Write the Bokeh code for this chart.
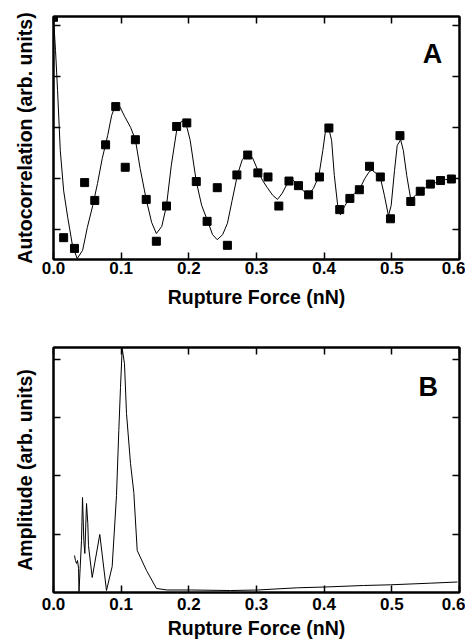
from bokeh.plotting import figure
from bokeh.models import LinearAxis, FixedTicker, Label, Range1d
from bokeh.layouts import column
from bokeh.embed import file_html
from bokeh.resources import INLINE

# ---------------- Panel A data ----------------
a_pts_x = [0.000, 0.015, 0.031, 0.046, 0.061, 0.077, 0.092, 0.106, 0.121, 0.137,
           0.152, 0.167, 0.182, 0.197, 0.211, 0.227, 0.242, 0.257, 0.271, 0.287,
           0.302, 0.317, 0.333, 0.348, 0.362, 0.377, 0.393, 0.407, 0.423, 0.438,
           0.452, 0.467, 0.483, 0.498, 0.512, 0.528, 0.542, 0.557, 0.572, 0.588]
a_pts_y = [4.16, -0.16, -0.37, 0.92, 0.57, 1.66, 2.41, 1.22, 1.76, 0.59,
           -0.23, 0.46, 2.02, 2.09, 0.94, 0.16, 0.82, -0.31, 1.07, 1.46,
           1.11, 1.03, 0.46, 0.95, 0.86, 0.68, 1.03, 1.99, 0.39, 0.61,
           0.78, 1.24, 1.03, 0.21, 1.84, 0.55, 0.75, 0.89, 0.96, 0.99]

a_fit_x = [0.000, 0.003, 0.006, 0.010, 0.015, 0.021, 0.028, 0.035, 0.043, 0.050,
           0.058, 0.065, 0.072, 0.080, 0.086, 0.092, 0.098, 0.105, 0.114, 0.121,
           0.128, 0.137, 0.145, 0.152, 0.160, 0.167, 0.174, 0.182, 0.189, 0.195,
           0.202, 0.211, 0.219, 0.228, 0.235, 0.242, 0.250, 0.257, 0.264, 0.272,
           0.279, 0.287, 0.294, 0.302, 0.309, 0.316, 0.324, 0.331, 0.338, 0.347,
           0.355, 0.362, 0.369, 0.377, 0.384, 0.392, 0.398, 0.402, 0.406, 0.411,
           0.415, 0.420, 0.424, 0.430, 0.437, 0.445, 0.452, 0.460, 0.467, 0.471,
           0.477, 0.483, 0.489, 0.495, 0.499, 0.504, 0.508, 0.513, 0.517, 0.522,
           0.528, 0.535, 0.542, 0.550, 0.557, 0.565, 0.572, 0.579, 0.588]
a_fit_y = [4.16, 3.51, 2.73, 1.55, 0.76, 0.24, -0.31, -0.57, -0.41, 0.04,
           0.47, 0.90, 1.39, 1.84, 2.24, 2.45, 2.41, 2.22, 2.00, 1.76,
           1.20, 0.59, 0.14, -0.08, 0.06, 0.47, 1.25, 1.94, 2.12, 2.12,
           1.75, 0.94, 0.47, 0.16, -0.10, -0.20, -0.10, 0.12, 0.57, 1.08,
           1.37, 1.49, 1.41, 1.16, 0.96, 0.82, 0.67, 0.59, 0.71, 0.94,
           0.96, 0.86, 0.76, 0.69, 0.80, 1.04, 1.55, 1.94, 2.02, 1.75,
           1.06, 0.47, 0.29, 0.45, 0.61, 0.71, 0.78, 1.00, 1.14, 1.16,
           1.10, 1.02, 0.67, 0.27, 0.47, 1.16, 1.65, 1.76, 1.55, 1.06,
           0.59, 0.67, 0.75, 0.82, 0.88, 0.92, 0.96, 0.98, 0.98]

# ---------------- Panel B data ----------------
b_x = [0.031, 0.0325, 0.034, 0.0355, 0.037, 0.0377, 0.0414, 0.0429, 0.0448, 0.0463,
       0.0488, 0.0507, 0.0517, 0.0572, 0.0684, 0.0783, 0.0867, 0.0931, 0.0965, 0.099,
       0.1015, 0.1049, 0.1079, 0.1138, 0.1187, 0.1237, 0.1374, 0.1522, 0.168, 0.2025,
       0.2616, 0.3015, 0.3606, 0.4005, 0.458, 0.498, 0.557, 0.597]
b_y = [0.635, 0.549, 0.498, 0.549, 0.412, 0.017, 0.893, 1.631, 0.893, 0.670,
       1.528, 1.185, 0.807, 0.258, 0.996, 0.034, 0.446, 1.665, 2.781, 3.519,
       4.189, 3.931, 3.073, 2.215, 1.717, 0.721, 0.378, 0.069, 0.043, 0.043,
       0.034, 0.043, 0.081, 0.094, 0.120, 0.132, 0.160, 0.180]

x_ticks = [0.0, 0.1, 0.2, 0.3, 0.4, 0.5, 0.6]
a_y_ticks = [0, 1, 2, 3, 4]
b_y_ticks = [1, 2, 3, 4]

FONT = "Liberation Sans"


def base_axis(ax):
    ax.axis_line_width = 2
    ax.axis_line_color = "black"
    ax.axis_label_text_font = FONT
    ax.axis_label_text_font_style = "bold"
    ax.axis_label_text_font_size = "19.5px"
    ax.axis_label_text_color = "black"


def labelled_axis(ax, ticks):
    base_axis(ax)
    ax.ticker = FixedTicker(ticks=ticks)
    ax.major_tick_in = 7
    ax.major_tick_out = 0
    ax.major_tick_line_width = 1.5
    ax.major_tick_line_color = "black"
    ax.minor_tick_line_color = None
    ax.major_label_text_font = FONT
    ax.major_label_text_font_style = "bold"
    ax.major_label_text_font_size = "17px"
    ax.major_label_text_color = "black"


def unlabelled_axis(ax, ticks):
    # ticks drawn as minor ticks so that no tick labels exist at all
    base_axis(ax)
    ax.ticker = FixedTicker(ticks=[], minor_ticks=ticks)
    ax.major_tick_line_color = None
    ax.minor_tick_in = 7
    ax.minor_tick_out = 0
    ax.minor_tick_line_width = 1.5
    ax.minor_tick_line_color = "black"
    ax.major_label_standoff = 0


def make_panel(ylabel, yr, yticks, top, bottom, frame_h, lab_std, maj_std):
    p = figure(frame_width=406, frame_height=frame_h, output_backend="svg",
               toolbar_location=None, x_range=Range1d(0, 0.6),
               y_range=Range1d(yr[0], yr[1]),
               min_border_left=53, min_border_right=6,
               min_border_top=top, min_border_bottom=bottom)
    p.xgrid.visible = False
    p.ygrid.visible = False
    p.outline_line_color = "black"
    p.outline_line_width = 2
    p.background_fill_color = "white"
    p.border_fill_color = "white"
    labelled_axis(p.xaxis[0], x_ticks)
    p.xaxis[0].axis_label = "Rupture Force (nN)"
    p.xaxis[0].major_label_standoff = maj_std
    p.xaxis[0].axis_label_standoff = lab_std
    p.xaxis[0].major_label_overrides = {0.0: "0.0", 0.1: "0.1", 0.2: "0.2", 0.3: "0.3",
                                         0.4: "0.4", 0.5: "0.5", 0.6: "0.6"}
    unlabelled_axis(p.yaxis[0], yticks)
    p.yaxis[0].axis_label = ylabel
    p.yaxis[0].axis_label_standoff = 18
    top_ax = LinearAxis()
    unlabelled_axis(top_ax, x_ticks)
    p.add_layout(top_ax, "above")
    right_ax = LinearAxis()
    unlabelled_axis(right_ax, yticks)
    p.add_layout(right_ax, "right")
    return p


pA = make_panel("Autocorrelation (arb. units)", (-0.588, 4.176), a_y_ticks,
                16, 52, 243, 9, 2)
pA.line(a_fit_x, a_fit_y, line_color="black", line_width=1)
pA.scatter(a_pts_x, a_pts_y, marker="square", size=8, color="black")
pA.add_layout(Label(x=0.56, y=3.45, text="A", text_font=FONT, text_font_style="bold",
                    text_font_size="27px", text_align="center",
                    text_baseline="alphabetic", text_color="black"))

pB = make_panel("Amplitude (arb. units)", (0, 4.206), b_y_ticks,
                36, 0, 245, 4, 5)
pB.line(b_x, b_y, line_color="black", line_width=1)
pB.add_layout(Label(x=0.554, y=3.52, text="B", text_font=FONT, text_font_style="bold",
                    text_font_size="27px", text_align="center",
                    text_baseline="alphabetic", text_color="black"))

layout = column(pA, pB, spacing=0)
open("out.html", "w").write(file_html(layout, INLINE))
